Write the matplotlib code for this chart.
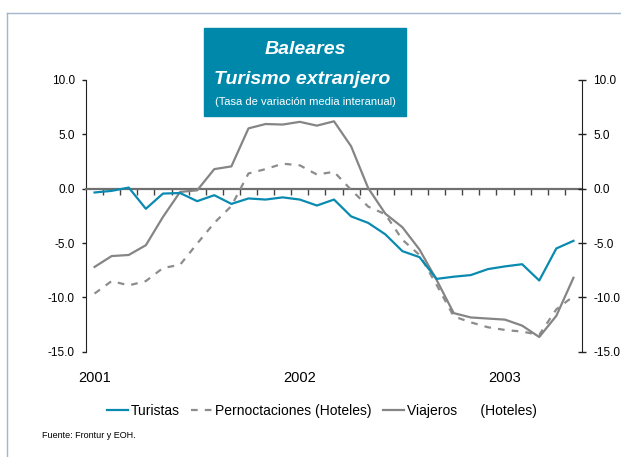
import numpy as np
import matplotlib
matplotlib.use('Agg')
import matplotlib.pyplot as plt
from matplotlib.patches import Rectangle
from matplotlib.lines import Line2D
import matplotlib.transforms as mtransforms

# monthly values, Jan 2001 - May 2003
turistas = [-0.35, -0.2, 0.1, -1.85, -0.45, -0.4, -1.15, -0.6, -1.4, -0.9,
            -1.0, -0.8, -1.0, -1.55, -1.0, -2.55, -3.15, -4.2, -5.75, -6.3,
            -8.3, -8.1, -7.95, -7.4, -7.15, -6.95, -8.45, -5.5, -4.8]
pernoctaciones = [-9.65, -8.5, -8.9, -8.5, -7.3, -7.0, -5.05, -3.15, -1.6, 1.4,
                  1.8, 2.3, 2.15, 1.3, 1.55, -0.1, -1.65, -2.35, -4.7, -6.1,
                  -8.85, -11.75, -12.3, -12.75, -13.0, -13.15, -13.45, -11.1, -9.9]
viajeros = [-7.2, -6.2, -6.1, -5.2, -2.6, -0.3, -0.15, 1.8, 2.05, 5.55,
            5.95, 5.9, 6.15, 5.8, 6.2, 3.9, 0.05, -2.3, -3.55, -5.6,
            -8.4, -11.45, -11.85, -11.95, -12.05, -12.6, -13.65, -11.7, -8.2]
years = ['2001', '2002', '2003']
year_pos = [0, 12, 24]
yticks = [-15, -10, -5, 0, 5, 10]

teal = '#0a8ab0'
grey = '#858585'

plt.rcParams['font.family'] = ['Liberation Sans', 'DejaVu Sans']

W, H = 621, 457
fig = plt.figure(figsize=(W / 100, H / 100), dpi=100)
ax = fig.add_axes([86 / W, 1 - 351.7 / H, (582 - 86) / W, (351.7 - 80) / H])
ax.patch.set_alpha(0)

x = np.arange(len(turistas))
ax.plot(x, pernoctaciones, color='#8c8c8c', lw=1.6, dashes=(3, 3.2),
        label='Pernoctaciones (Hoteles)', zorder=3)
ax.plot(x, viajeros, color=grey, lw=1.6, label='Viajeros      (Hoteles)', zorder=3)
ax.plot(x, turistas, color=teal, lw=1.6, label='Turistas', zorder=4)

ax.set_xlim(-0.5, len(turistas) - 0.5)
ax.set_ylim(-15, 10)
ax.set_yticks(yticks)
ax.set_yticklabels(['%.1f' % v for v in yticks], fontsize=8.5)
ax.tick_params(axis='y', direction='out', length=3, width=1, pad=5, color='#222222')

# zero line with month ticks
ax.spines['bottom'].set_position(('data', 0))
ax.spines['bottom'].set_color('#707070')
ax.spines['bottom'].set_linewidth(1.6)
ax.spines['top'].set_visible(False)
ax.spines['right'].set_visible(False)
ax.spines['left'].set_color('#222222')
ax.set_xticks(np.arange(0.5, len(turistas) - 1, 1))
ax.set_xticklabels([])
ax.tick_params(axis='x', direction='out', length=4, width=1, color='#444444')

ax2 = ax.twinx()
ax2.set_ylim(-15, 10)
ax2.set_yticks(yticks)
ax2.set_yticklabels(['%.1f' % v for v in yticks], fontsize=8.5)
ax2.tick_params(axis='y', direction='inout', length=6, width=1, pad=5, color='#222222')
for s in ['top', 'bottom', 'left']:
    ax2.spines[s].set_visible(False)
ax2.spines['right'].set_color('#222222')

trans = mtransforms.blended_transform_factory(ax.transData, ax.transAxes)
for p, lab in zip(year_pos, years):
    ax.text(p, -0.096, lab, transform=trans, ha='center', va='center', fontsize=10.5)

h, l = ax.get_legend_handles_labels()
order = [2, 0, 1]
fig.legend([h[i] for i in order], [l[i] for i in order], loc='center',
           bbox_to_anchor=(322 / W, 1 - 411 / H), ncol=3, frameon=False,
           fontsize=10, handlelength=1.5, handletextpad=0.25, columnspacing=0.8)

# title box
fig.patches.append(Rectangle((204 / W, 1 - 116 / H), 202 / W, 88 / H,
                             transform=fig.transFigure, color='#0088ab', zorder=5))
fig.text(305 / W, 1 - 50 / H, 'Baleares', color='white', fontsize=14,
         fontweight='bold', style='italic', ha='center', va='center', zorder=6)
fig.text(302 / W, 1 - 80 / H, 'Turismo extranjero', color='white', fontsize=14,
         fontweight='bold', style='italic', ha='center', va='center', zorder=6)
fig.text(305 / W, 1 - 102 / H, '(Tasa de variación media interanual)', color='white',
         fontsize=8, ha='center', va='center', zorder=6)

fig.text(42 / W, 1 - 436 / H, 'Fuente: Frontur y EOH.', fontsize=6.5, ha='left', va='center')

# outer frame
fig.add_artist(Line2D([7 / W, 7 / W], [0, 1 - 13 / H], color='#a3b6cc', lw=1))
fig.add_artist(Line2D([7 / W, 1], [1 - 13 / H, 1 - 13 / H], color='#a3b6cc', lw=1))

fig.savefig('out.png', dpi=100)
